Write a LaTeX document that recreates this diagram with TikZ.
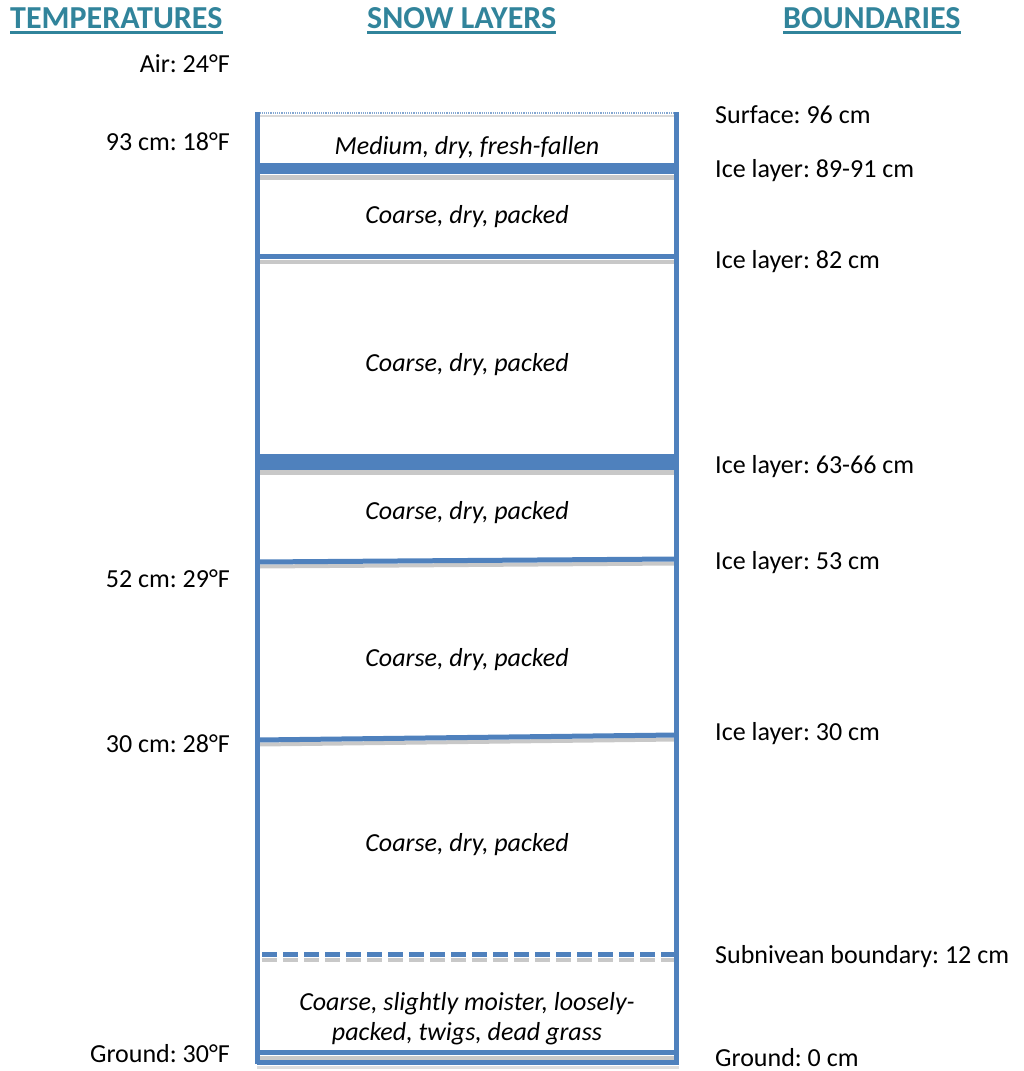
\documentclass[tikz,border=0pt]{standalone}
\usepackage{fontspec}
\setmainfont{Carlito}
\frenchspacing
\definecolor{boxblue}{HTML}{4F81BD}
\definecolor{headteal}{HTML}{31849B}
\definecolor{shadegray}{HTML}{C8C8C8}
\tikzset{
  blueline/.style={draw=boxblue, line width=5pt},
  shadowline/.style={draw=shadegray, line width=4pt},
  header/.style={anchor=base west, inner sep=0pt, text=headteal, font=\fontsize{32}{37}\selectfont\bfseries},
  ulines/.style={draw=headteal, line width=2.5pt},
  templabel/.style={anchor=base east, inner sep=0pt, font=\fontsize{26}{31}\selectfont},
  bndlabel/.style={anchor=base west, inner sep=0pt, font=\fontsize{26}{31}\selectfont},
  layerlabel/.style={anchor=base, inner sep=0pt, font=\fontsize{26}{31}\selectfont\itshape, align=center}
}
\begin{document}
\begin{tikzpicture}[x=1pt,y=-1pt]
\useasboundingbox (0,0) rectangle (1024,1071);
% headers
\node[header] (h1) at (10,28) {TEMPERATURES};
\node[header] (h2) at (367,28) {SNOW LAYERS};
\node[header] (h3) at (783,28) {BOUNDARIES};
\foreach \h in {h1,h2,h3}{
  \draw[ulines] ([yshift=-4.5pt]\h.base west) -- ([yshift=-4.5pt]\h.base east);
}
% shadows
\draw[draw=shadegray!70, line width=2pt] (259,116) -- (676,116);
\draw[shadowline, line width=5pt] (259,177) -- (676,177);
\draw[shadowline] (259,261.5) -- (676,261.5);
\draw[shadowline, line width=5pt] (259,472.5) -- (676,472.5);
\draw[shadowline] (259,566.5) -- (676,563.5);
\draw[shadowline] (259,744.5) -- (676,739.5);
\draw[shadowline, dash pattern=on 15pt off 6pt] (262,959.5) -- (676,959.5);
\draw[shadowline] (257,1057.5) -- (679,1057.5);
\draw[draw=shadegray!60, line width=3pt] (257,1067) -- (679,1067);
% top line
\draw[draw=boxblue!70, line width=1.2pt, densely dotted] (255,113) -- (679,113);
% horizontal blue lines
\draw[blueline, line width=11pt] (257,168.5) -- (676,168.5);
\draw[blueline] (257,256.5) -- (676,256.5);
\draw[blueline, line width=16pt] (257,462) -- (676,462);
\draw[blueline] (257,562) -- (676,559);
\draw[blueline] (257,740) -- (676,735);
\draw[blueline, dash pattern=on 15pt off 6pt] (262,954.5) -- (676,954.5);
\draw[blueline, line width=4.5pt] (255,1052.5) -- (679,1052.5);
\draw[blueline, line width=4.5pt] (257,1062.5) -- (679,1062.5);
% verticals
\draw[blueline] (257,112) -- (257,1064);
\draw[blueline] (676,112) -- (676,1064);
% temperatures
\node[templabel] (t0) at (230,72) {Air: 24°F};
\node[templabel] (t1) at (230,150) {93 cm: 18°F};
\node[templabel] (t2) at (230,587) {52 cm: 29°F};
\node[templabel] (t3) at (230,752) {30 cm: 28°F};
\node[templabel] (t4) at (230,1062) {Ground: 30°F};
% boundaries
\node[bndlabel] (b0) at (715,123) {Surface: 96 cm};
\node[bndlabel] (b1) at (715,177) {Ice layer: 89-91 cm};
\node[bndlabel] (b2) at (715,268) {Ice layer: 82 cm};
\node[bndlabel] (b3) at (715,473) {Ice layer: 63-66 cm};
\node[bndlabel] (b4) at (715,569) {Ice layer: 53 cm};
\node[bndlabel] (b5) at (715,740) {Ice layer: 30 cm};
\node[bndlabel] (b6) at (715,963) {Subnivean boundary: 12 cm};
\node[bndlabel] (b7) at (715,1066) {Ground: 0 cm};
% layers
\node[layerlabel] (l1) at (467,154) {Medium, dry, fresh-fallen};
\node[layerlabel] (l2) at (467,223) {Coarse, dry, packed};
\node[layerlabel] (l3) at (467,371) {Coarse, dry, packed};
\node[layerlabel] (l4) at (467,519) {Coarse, dry, packed};
\node[layerlabel] (l5) at (467,666) {Coarse, dry, packed};
\node[layerlabel] (l6) at (467,851) {Coarse, dry, packed};
\node[layerlabel] (l7a) at (467,1010) {Coarse, slightly moister, loosely-};
\node[layerlabel] (l7b) at (467,1040) {packed, twigs, dead grass};
\end{tikzpicture}
\end{document}
